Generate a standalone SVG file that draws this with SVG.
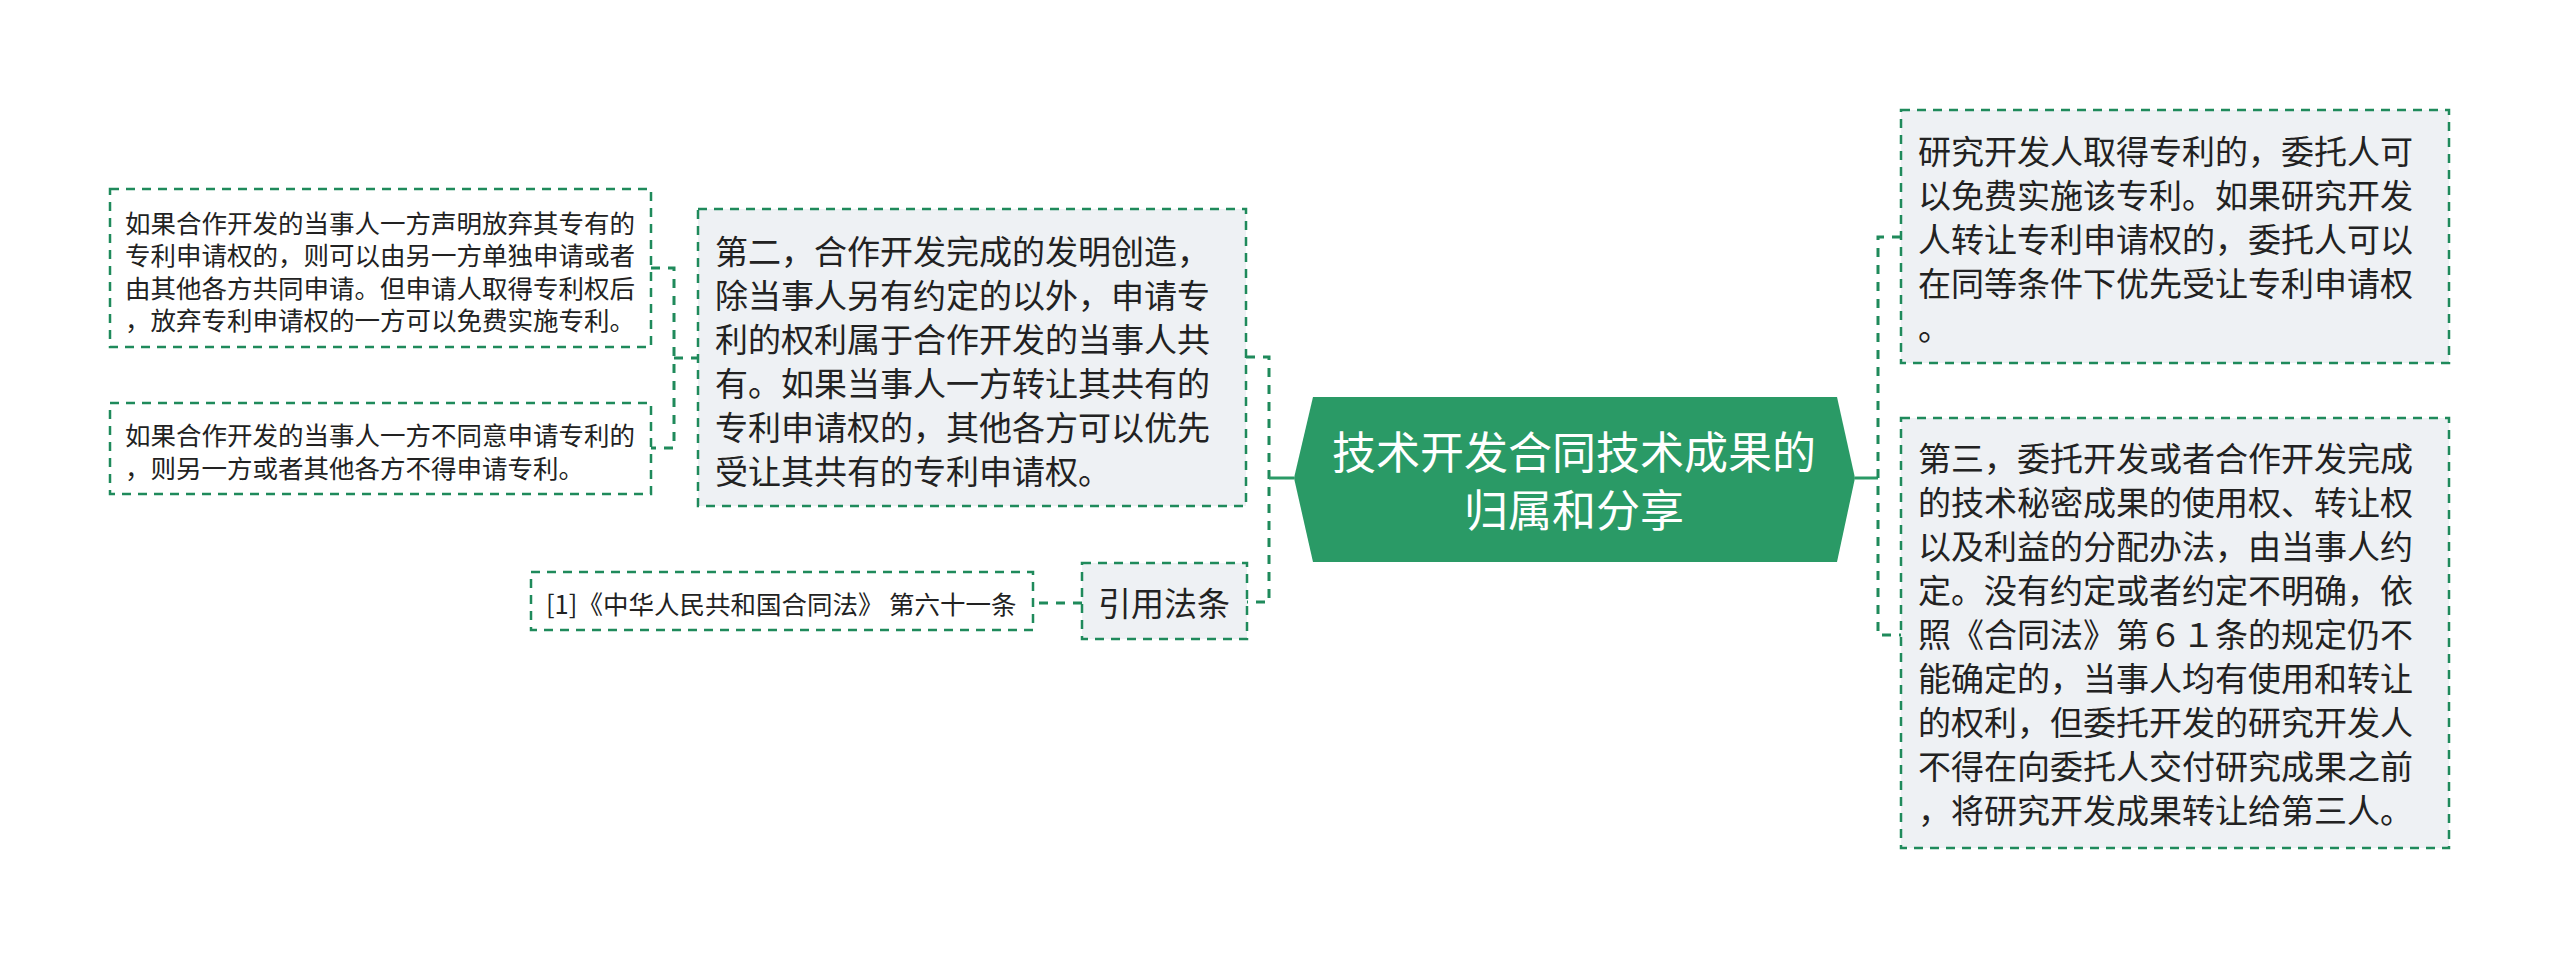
<svg xmlns="http://www.w3.org/2000/svg" width="2560" height="960" viewBox="0 0 2560 960">
<style>
.box{fill:#ffffff;stroke:#1f8a5b;stroke-width:2.5;stroke-dasharray:9 7}
.gbox{fill:#eef1f4;stroke:#1f8a5b;stroke-width:2.5;stroke-dasharray:9 7}
.t{font-family:"Noto Sans CJK SC","Noto Sans",sans-serif;fill:#222222;dominant-baseline:central}
.s{font-size:25.5px}
.m{font-size:33px}
.r{font-family:"Noto Sans CJK SC","Noto Sans",sans-serif;fill:#ffffff;font-size:44px;dominant-baseline:central;text-anchor:middle}
.c{fill:none;stroke:#1f8a5b;stroke-width:3;stroke-dasharray:9 8}
.cs{fill:none;stroke:#2a9a66;stroke-width:3}
</style>
<rect width="2560" height="960" fill="#ffffff"/>
<g id="connectors">
<path class="c" d="M651,268 H674 V448 H651"/>
<path class="c" d="M674,358 H698"/>
<path class="c" d="M1246,357 H1269 V602 H1247"/>
<path class="cs" d="M1269,478 H1294"/>
<path class="c" d="M1082,603 H1033"/>
<path class="cs" d="M1855,478 H1878"/>
<path class="c" d="M1901,237 H1878 V635 H1901"/>
</g>
<g id="root">
<polygon points="1294,478 1313,397 1837,397 1855,478 1837,562 1313,562" fill="#2a9a66"/>
<text class="r" x="1574" y="450">技术开发合同技术成果的</text>
<text class="r" x="1574" y="508">归属和分享</text>
</g>
<g id="node-left1">
<rect class="box" x="110" y="189" width="541" height="158"/>
<text class="t s" x="125" y="221">如果合作开发的当事人一方声明放弃其专有的</text>
<text class="t s" x="125" y="253">专利申请权的，则可以由另一方单独申请或者</text>
<text class="t s" x="125" y="286">由其他各方共同申请。但申请人取得专利权后</text>
<text class="t s" x="125" y="318">，放弃专利申请权的一方可以免费实施专利。</text>
</g>
<g id="node-left2">
<rect class="box" x="110" y="403" width="541" height="91"/>
<text class="t s" x="125" y="433">如果合作开发的当事人一方不同意申请专利的</text>
<text class="t s" x="125" y="466">，则另一方或者其他各方不得申请专利。</text>
</g>
<g id="node-second">
<rect class="gbox" x="698" y="209" width="548" height="297"/>
<text class="t m" x="715" y="250">第二，合作开发完成的发明创造，</text>
<text class="t m" x="715" y="294">除当事人另有约定的以外，申请专</text>
<text class="t m" x="715" y="338">利的权利属于合作开发的当事人共</text>
<text class="t m" x="715" y="382">有。如果当事人一方转让其共有的</text>
<text class="t m" x="715" y="426">专利申请权的，其他各方可以优先</text>
<text class="t m" x="715" y="470">受让其共有的专利申请权。</text>
</g>
<g id="node-law">
<rect class="gbox" x="1082" y="563" width="165" height="76"/>
<text class="t m" x="1164" y="602" text-anchor="middle">引用法条</text>
</g>
<g id="node-ref">
<rect class="box" x="531" y="572" width="502" height="58"/>
<text class="t s" x="546" y="602">[1]《中华人民共和国合同法》 第六十一条</text>
</g>
<g id="node-right1">
<rect class="gbox" x="1901" y="110" width="548" height="253"/>
<text class="t m" x="1918" y="150">研究开发人取得专利的，委托人可</text>
<text class="t m" x="1918" y="194">以免费实施该专利。如果研究开发</text>
<text class="t m" x="1918" y="238">人转让专利申请权的，委托人可以</text>
<text class="t m" x="1918" y="282">在同等条件下优先受让专利申请权</text>
<text class="t m" x="1918" y="326">。</text>
</g>
<g id="node-right2">
<rect class="gbox" x="1901" y="418" width="548" height="430"/>
<text class="t m" x="1918" y="457">第三，委托开发或者合作开发完成</text>
<text class="t m" x="1918" y="501">的技术秘密成果的使用权、转让权</text>
<text class="t m" x="1918" y="545">以及利益的分配办法，由当事人约</text>
<text class="t m" x="1918" y="589">定。没有约定或者约定不明确，依</text>
<text class="t m" x="1918" y="633">照《合同法》第６１条的规定仍不</text>
<text class="t m" x="1918" y="677">能确定的，当事人均有使用和转让</text>
<text class="t m" x="1918" y="721">的权利，但委托开发的研究开发人</text>
<text class="t m" x="1918" y="765">不得在向委托人交付研究成果之前</text>
<text class="t m" x="1918" y="809">，将研究开发成果转让给第三人。</text>
</g>
</svg>
